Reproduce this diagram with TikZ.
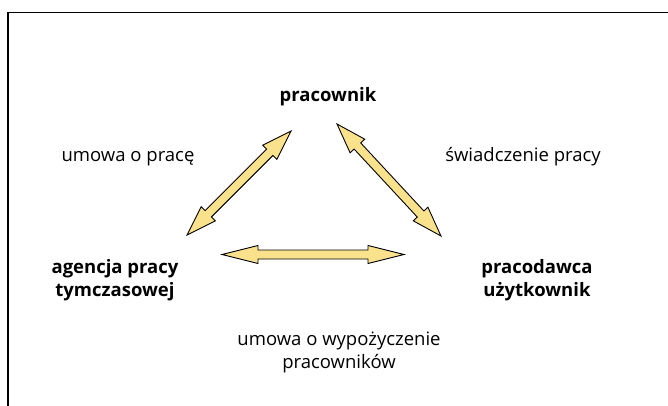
\documentclass[tikz,border=0pt]{standalone}
\usepackage{fontspec}
\setmainfont{Open Sans}
\usetikzlibrary{calc}
\definecolor{arrowyellow}{RGB}{250,226,140}
\tikzset{
  lbl/.style={anchor=base, inner sep=0pt, font=\fontsize{18.5}{23}\selectfont, align=center},
  boldlbl/.style={lbl, font=\fontsize{18.5}{23}\selectfont\bfseries},
  dblarrow/.style={draw=black, line width=0.9pt, fill=arrowyellow, line join=miter},
  frameline/.style={draw=black, line width=1.1pt}
}
\newcommand\dblarr[5]{%
  \pgfpointdiff{\pgfpointanchor{#1}{center}}{\pgfpointanchor{#2}{center}}%
  \pgfgetlastxy{\arrdx}{\arrdy}%
  \pgfmathsetmacro\arrang{atan2(\arrdy,\arrdx)}%
  \pgfmathsetmacro\arrlen{veclen(\arrdx,\arrdy)}%
  \begin{scope}[shift={(#1)}, rotate=\arrang, x=1pt, y=1pt]
    \draw[dblarrow] (0,0) -- (#3,#4) -- (#3,#5) -- (\arrlen-#3,#5) -- (\arrlen-#3,#4)
      -- (\arrlen,0) -- (\arrlen-#3,-#4) -- (\arrlen-#3,-#5) -- (#3,-#5) -- (#3,-#4) -- cycle;
  \end{scope}}
\begin{document}
\begin{tikzpicture}[x=1pt, y=-1pt]
  \useasboundingbox (0,0) rectangle (668,405);
  \draw[frameline] (8,406) -- (8,12.5) -- (668,12.5);

  \node[boldlbl] (prac) at (328,101) {pracownik};
  % base anchor of a two-line node is the baseline of its last line
  \node[boldlbl] (agen) at (115,296) {agencja pracy\\tymczasowej};
  \node[boldlbl] (pdaw) at (537,296) {pracodawca\\użytkownik};

  \node[lbl] (umpr) at (128,161) {umowa o pracę};
  \node[lbl] (swia) at (523,161) {świadczenie pracy};
  \node[lbl] (umwy) at (339,368) {umowa o wypożyczenie\\pracowników};

  \coordinate (l1) at (187,235);
  \coordinate (l2) at (291,131);
  \coordinate (r1) at (337,124);
  \coordinate (r2) at (441,236);
  \coordinate (h1) at (222,254.5);
  \coordinate (h2) at (404,254.5);

  \dblarr{l1}{l2}{30}{10}{4.5}
  \dblarr{r1}{r2}{30}{10}{4.5}
  \dblarr{h1}{h2}{36}{9}{4.5}
\end{tikzpicture}
\end{document}
